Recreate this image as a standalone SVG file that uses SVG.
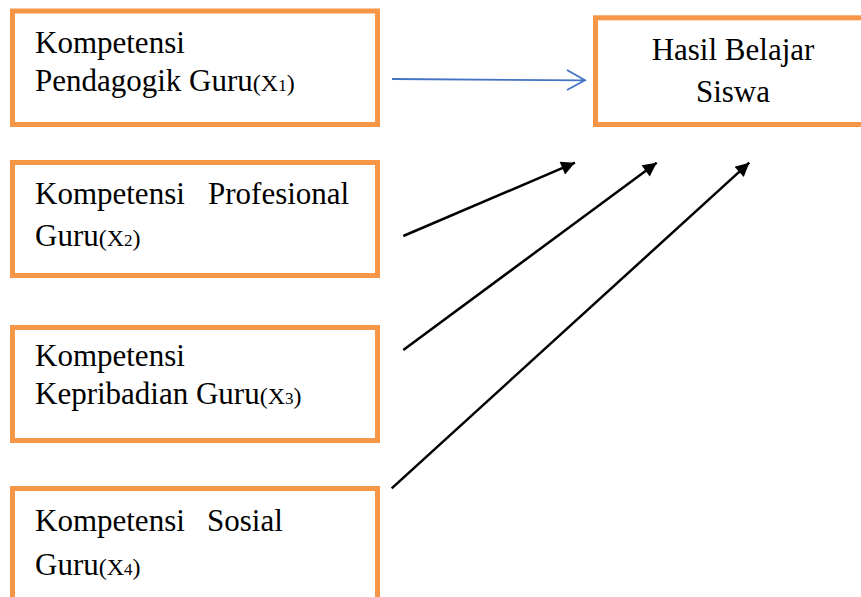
<svg xmlns="http://www.w3.org/2000/svg" width="861" height="597" viewBox="0 0 861 597">
<style>
.box{fill:#fff;stroke:#F79646;stroke-width:5}
.t{font-family:"Liberation Serif","Times New Roman",serif;font-size:31px;fill:#000}
.s{font-size:24px}
.d{font-size:17px}
.blk{stroke:#000;stroke-width:2.5;fill:none}
.blue{stroke:#4472C4;stroke-width:1.8;fill:none}
</style>
<defs>
<marker id="ah" viewBox="0 0 10 10" refX="10" refY="5" markerWidth="6.5" markerHeight="5.5" markerUnits="strokeWidth" orient="auto">
<path d="M0,0 L10,5 L0,10 Z" fill="#000"/>
</marker>
</defs>
<rect width="861" height="597" fill="#fff"/>
<g id="x1">
<rect class="box" x="12.5" y="11" width="365" height="113.5"/>
<text class="t" x="35" y="53">Kompetensi</text>
<text class="t" x="35" y="91">Pendagogik Guru<tspan class="s">(X</tspan><tspan class="d">1</tspan><tspan class="s">)</tspan></text>
</g>
<g id="x2">
<rect class="box" x="12.5" y="162.5" width="365" height="113"/>
<text class="t" x="35" y="204">Kompetensi</text>
<text class="t" x="208" y="204">Profesional</text>
<text class="t" x="35" y="246">Guru<tspan class="s">(X</tspan><tspan class="d">2</tspan><tspan class="s">)</tspan></text>
</g>
<g id="x3">
<rect class="box" x="12.5" y="327.5" width="365" height="113"/>
<text class="t" x="35" y="366">Kompetensi</text>
<text class="t" x="35" y="404">Kepribadian Guru<tspan class="s">(X</tspan><tspan class="d">3</tspan><tspan class="s">)</tspan></text>
</g>
<g id="x4">
<rect class="box" x="12.5" y="488.5" width="365" height="130"/>
<text class="t" x="35" y="531">Kompetensi</text>
<text class="t" x="207" y="531">Sosial</text>
<text class="t" x="35" y="575">Guru<tspan class="s">(X</tspan><tspan class="d">4</tspan><tspan class="s">)</tspan></text>
</g>
<g id="y">
<rect class="box" x="595.5" y="17.8" width="280" height="106.7"/>
<text class="t" x="733" y="60" text-anchor="middle">Hasil Belajar</text>
<text class="t" x="733" y="101.5" text-anchor="middle">Siswa</text>
</g>
<g id="connectors">
<path class="blue" d="M392,79 L585,80.3 M567,70 L585,80.3 L567,90"/>
<line class="blk" x1="403.3" y1="236" x2="575" y2="162.7" marker-end="url(#ah)"/>
<line class="blk" x1="403.3" y1="350" x2="656.7" y2="162.7" marker-end="url(#ah)"/>
<line class="blk" x1="391.7" y1="488.3" x2="749.3" y2="162.7" marker-end="url(#ah)"/>
</g>
</svg>
